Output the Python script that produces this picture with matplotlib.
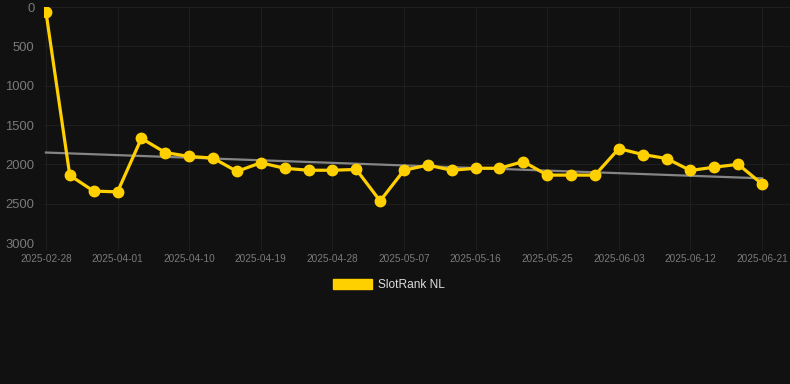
import numpy as np
import matplotlib.pyplot as plt
from matplotlib.patches import Patch

plt.rcParams['font.family'] = ['Liberation Sans', 'DejaVu Sans']

# rank values, one point every 3 days (first gap is longer)
ranks = [60, 2140, 2340, 2350, 1670, 1850, 1900, 1920, 2090, 1980,
         2050, 2075, 2075, 2065, 2465, 2075, 2010, 2075, 2050, 2050,
         1965, 2137, 2137, 2137, 1800, 1875, 1926, 2078, 2036, 2000, 2250]
# trend line end values
trend = [1850, 2178]
tick_labels = ['2025-02-28', '2025-04-01', '2025-04-10', '2025-04-19',
               '2025-04-28', '2025-05-07', '2025-05-16', '2025-05-25',
               '2025-06-03', '2025-06-12', '2025-06-21']
y_ticks = [0, 500, 1000, 1500, 2000, 2500, 3000]

bg = '#111111'
gold = '#ffd000'
grid_col = '#1e1e1e'
label_col = '#7a7a7a'

x = np.arange(len(ranks))

fig = plt.figure(figsize=(7.9, 3.84), dpi=100, facecolor=bg)
ax = fig.add_axes([44 / 790, 1 - 243 / 384, 746 / 790, 236 / 384])
ax.set_facecolor(bg)

ax.plot([x[0], x[-1]], trend, color='#858585', lw=1.6, zorder=2)
ax.plot(x, ranks, color=gold, lw=2.3, marker='o', ms=7.5, zorder=3)

ax.set_ylim(3000, 0)
ax.set_xlim(-0.08, 31.17)
ax.set_yticks(y_ticks)
ax.set_yticklabels([str(v) for v in y_ticks])
ax.set_xticks(x[::3])
ax.set_xticklabels(tick_labels)

ax.grid(True, color=grid_col, lw=0.8)
for s in ax.spines.values():
    s.set_visible(False)
ax.tick_params(axis='y', length=0, pad=7, labelsize=9.4, labelcolor=label_col)
ax.tick_params(axis='x', length=5, color=grid_col, pad=3, labelsize=7.2,
               labelcolor=label_col)

handle = Patch(facecolor=gold, edgecolor=gold)
fig.legend([handle], ['SlotRank NL'], loc='center', bbox_to_anchor=(389 / 790, 1 - 285 / 384),
           frameon=False, fontsize=8.6, labelcolor='#dddddd',
           handlelength=3.3, handleheight=0.95, handletextpad=0.5)

fig.savefig('out.png', dpi=100, facecolor=bg)
